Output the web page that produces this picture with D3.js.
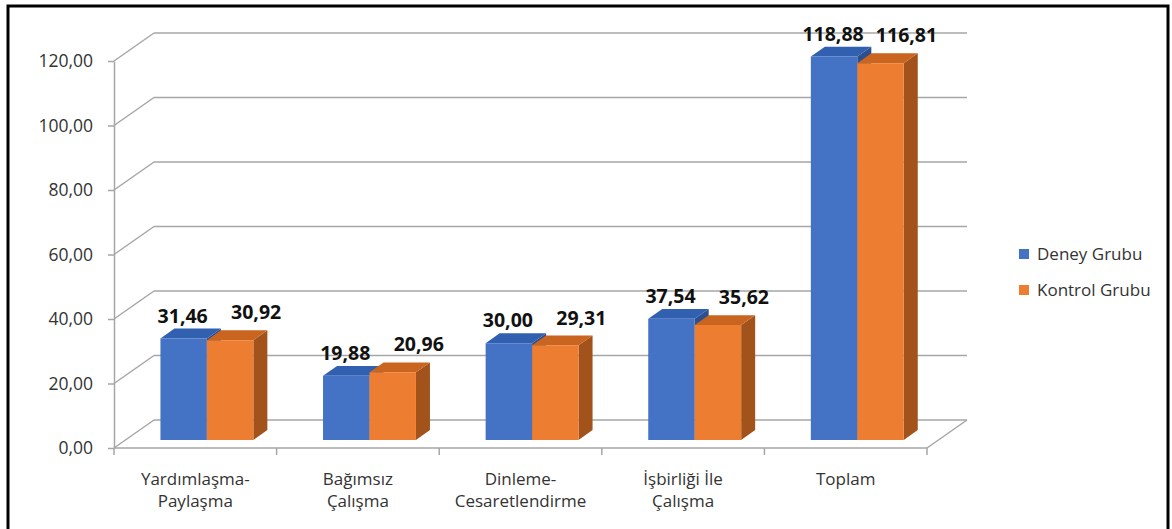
<!DOCTYPE html>
<html>
<head>
<meta charset="utf-8">
<script src="https://cdn.jsdelivr.net/npm/d3@7"></script>
<style>
  body { margin: 0; background: #fff; }
  svg text { font-family: "Open Sans", "Noto Sans", sans-serif; }
  .grid line { stroke: #a6a6a6; stroke-width: 1.5px; }
  .yaxis path, .yaxis line, .xaxis line { stroke: #a6a6a6; stroke-width: 1.5px; }
  .yaxis text { fill: #333; font-size: 17.5px; }
  .cat text { fill: #333; font-size: 17px; }
  .vals text { fill: #111; font-size: 19.5px; font-weight: bold; }
  .legend text { fill: #333; font-size: 17px; }
</style>
</head>
<body>
<svg width="1172" height="529"></svg>
<script>
// data
var categories = ["Yardımlaşma-\nPaylaşma", "Bağımsız\nÇalışma", "Dinleme-\nCesaretlendirme", "İşbirliği İle\nÇalışma", "Toplam"];
var seriesNames = ["Deney Grubu", "Kontrol Grubu"];
var deney = [31.46, 19.88, 30.00, 37.54, 118.88];
var kontrol = [30.92, 20.96, 29.31, 35.62, 116.81];
var yTicks = [0, 20, 40, 60, 80, 100, 120];

var colors = {
    "Deney Grubu": { front: "#4472c4", top: "#3160b0", side: "#2d4f8e" },
    "Kontrol Grubu": { front: "#ed7d31", top: "#c9651f", side: "#a2521b" }
};

var svg = d3.select("svg");

// chart frame
svg.append("rect").attr("x", 8).attr("y", 6).attr("width", 1160).attr("height", 560)
    .attr("fill", "none").attr("stroke", "#000").attr("stroke-width", 3);

var plotLeft = 114, plotRight = 927, plotBottom = 448, plotTop = 61;
var depthX = 40, depthY = -28;
var zFront = 0.29, zBack = 0.64;

var x = d3.scaleBand().domain(categories).range([plotLeft, plotRight]);
var xs = d3.scaleBand().domain(seriesNames).range([0, x.bandwidth()]).paddingOuter(0.75);
var y = d3.scaleLinear().domain([0, 120]).range([plotBottom, plotTop]);

var loc = d3.formatLocale({ decimal: ",", thousands: ".", grouping: [3], currency: ["", ""] });
var fmt = loc.format(".2f");

function P(px, v, z) {
    return [px + z * depthX, y(v) + z * depthY];
}

// walls: side wall diagonals and back gridlines
var grid = svg.append("g").attr("class", "grid");
yTicks.forEach(function(t) {
    var a = P(plotLeft, t, 0), b = P(plotLeft, t, 1), c = P(plotRight, t, 1);
    grid.append("line").attr("x1", a[0]).attr("y1", a[1]).attr("x2", b[0]).attr("y2", b[1]);
    grid.append("line").attr("x1", b[0]).attr("y1", b[1]).attr("x2", c[0]).attr("y2", c[1]);
});
var fr = P(plotRight, 0, 0), br = P(plotRight, 0, 1);
grid.append("line").attr("x1", fr[0]).attr("y1", fr[1]).attr("x2", br[0]).attr("y2", br[1]);

// y axis
svg.append("g").attr("class", "yaxis")
    .attr("transform", "translate(" + plotLeft + ",0)")
    .call(d3.axisLeft(y).tickValues(yTicks).tickSize(6).tickSizeOuter(0).tickPadding(15).tickFormat(fmt));

// x axis line + boundary ticks
var xa = svg.append("g").attr("class", "xaxis");
xa.append("line").attr("x1", plotLeft).attr("x2", plotRight).attr("y1", plotBottom).attr("y2", plotBottom);
categories.concat([null]).forEach(function(c) {
    var px = c === null ? plotRight : x(c);
    xa.append("line").attr("x1", px).attr("x2", px).attr("y1", plotBottom).attr("y2", plotBottom + 7);
});

// category labels
var cat = svg.append("g").attr("class", "cat");
categories.forEach(function(c) {
    var t = cat.append("text").attr("text-anchor", "middle");
    c.split("\n").forEach(function(line, i) {
        t.append("tspan").attr("x", x(c) + x.bandwidth() / 2).attr("y", 485 + i * 22).text(line);
    });
});

// bars
var rows = [];
categories.forEach(function(c, i) {
    rows.push({ cat: c, s: "Deney Grubu", v: deney[i] });
    rows.push({ cat: c, s: "Kontrol Grubu", v: kontrol[i] });
});

var bars = svg.append("g");
function poly(pts) { return pts.map(function(p) { return p.join(","); }).join(" "); }
rows.forEach(function(d) {
    var x0 = x(d.cat) + xs(d.s), x1 = x0 + xs.bandwidth();
    var col = colors[d.s];
    var g = bars.append("g");
    g.append("polygon").attr("fill", col.side)
        .attr("points", poly([P(x1, 0, zFront), P(x1, 0, zBack), P(x1, d.v, zBack), P(x1, d.v, zFront)]));
    g.append("polygon").attr("fill", col.top)
        .attr("points", poly([P(x0, d.v, zFront), P(x1, d.v, zFront), P(x1, d.v, zBack), P(x0, d.v, zBack)]));
    g.append("polygon").attr("fill", col.front)
        .attr("points", poly([P(x0, 0, zFront), P(x1, 0, zFront), P(x1, d.v, zFront), P(x0, d.v, zFront)]));
});

// value labels
var vals = svg.append("g").attr("class", "vals");
rows.forEach(function(d) {
    var cx = x(d.cat) + xs(d.s) + xs.bandwidth() / 2;
    var p = P(cx, d.v, zBack);
    var isD = d.s === "Deney Grubu";
    vals.append("text").attr("text-anchor", "middle")
        .attr("x", P(cx, d.v, zFront)[0] + (isD ? -1 : 26))
        .attr("y", p[1] - (isD ? 6 : 11))
        .text(fmt(d.v));
});

// legend
var legend = svg.append("g").attr("class", "legend").attr("transform", "translate(1019,249)");
seriesNames.forEach(function(s, i) {
    var g = legend.append("g").attr("transform", "translate(0," + (i * 36) + ")");
    g.append("rect").attr("width", 10).attr("height", 10).attr("fill", colors[s].front);
    g.append("text").attr("x", 18).attr("y", 11).text(s);
});
</script>
</body>
</html>
